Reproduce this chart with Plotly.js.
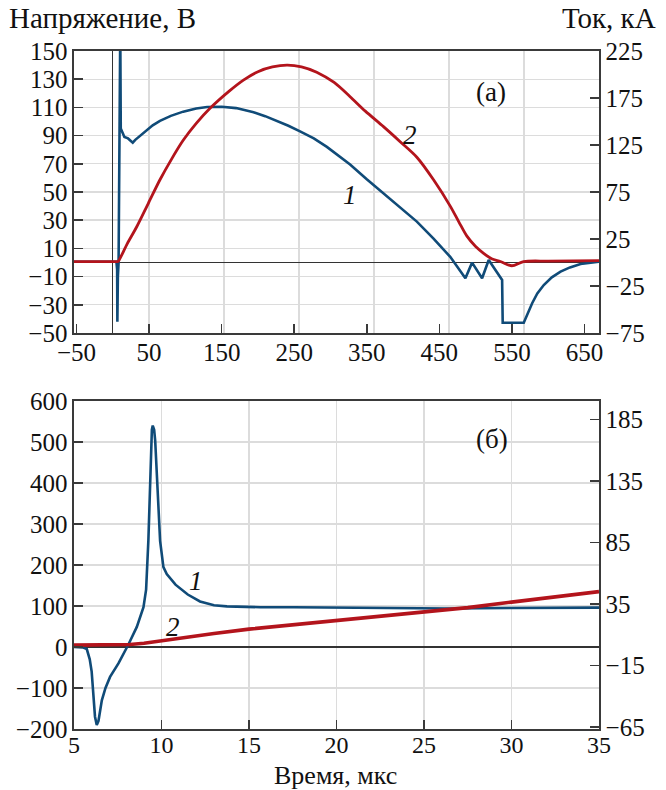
<!DOCTYPE html>
<html>
<head>
<meta charset="utf-8">
<script src="https://cdn.plot.ly/plotly-3.0.1.min.js"></script>
<style>html,body{margin:0;padding:0;background:#fff;}#chart{width:666px;height:790px;}</style>
</head>
<body>
<div id="chart"></div>
<script>
// ---- Panel (а): full pulse ----
const timeA_voltage = [-53.5, 0, 5, 6, 6.3, 7, 8, 9, 9.5, 10.3, 11, 13, 16, 21, 25, 27.5, 31, 37.6, 45, 55, 65, 80, 97, 115, 130, 150, 170, 194, 210, 226, 242, 258, 277, 295, 311, 327, 350, 373, 396, 419, 442, 465, 485.9, 495.1, 508.9, 518, 536.5, 537.3, 566.3, 577.9, 585, 593.9, 605, 617, 630, 644.6, 670];
const voltageA = [0.5, 0.5, 0.5, -5, -42, -10, 0, 100, 165, 165, 95, 92, 89, 88, 86.5, 85, 87, 90, 93.3, 97.3, 100.5, 104, 107, 109.2, 110.3, 110.5, 109.5, 106.5, 103.8, 100.5, 97, 93, 88, 82, 76, 69.5, 59, 49, 39, 29, 17, 4, -11.2, -0.1, -11.2, 1.8, -12.4, -42.7, -42.7, -28.9, -22, -16, -10.5, -6.5, -3.5, -1.1, 0.6];
const timeA_current = [-53.5, 0, 7, 9, 20, 33, 49, 65, 81, 97, 115, 134, 160, 180, 200, 220, 240, 260, 281, 305, 327, 348, 373, 396, 419, 442, 465, 477, 488, 500, 511, 522, 534, 550, 566, 600, 670];
const currentA = [1, 1, 1, 3, 20, 38, 63, 88, 110, 130, 148, 164, 182, 194, 203, 208, 210, 208.2, 202.5, 191.5, 176.4, 161, 144.5, 128.5, 112, 88, 60, 43, 28, 17, 9.8, 4, 1, -3.5, 1, 1.5, 2];

// ---- Panel (б): initial stage ----
const timeB_voltage = [5, 5.5, 5.73, 5.9, 6.01, 6.1, 6.2, 6.3, 6.4, 6.59, 6.8, 7.06, 7.54, 8.11, 8.59, 8.97, 9.12, 9.25, 9.35, 9.45, 9.5, 9.58, 9.64, 9.77, 9.92, 10.11, 10.3, 10.8, 11.5, 12.2, 13, 13.74, 15.65, 17.55, 21.37, 26.5, 30, 35];
const voltageB = [0, -1, -5, -30, -60, -122, -170, -190, -180, -130, -100, -73, -40, 6, 49, 97, 140, 260, 420, 530, 540, 530, 503, 381, 259, 195, 178, 152, 128, 111, 102, 99, 97, 97, 96, 94, 95, 96];
const timeB_current = [5, 7, 8.2, 9, 10, 11, 12, 13, 15, 17.5, 20, 22.5, 25, 27.5, 30, 32.5, 35];
const currentB = [1.5, 1.5, 2, 3, 5, 7.5, 9.5, 11, 14.5, 18, 21, 24.5, 28, 32, 36.5, 40.5, 45];

const ticksA_left = [-50, -30, -10, 10, 30, 50, 70, 90, 110, 130, 150];
const ticksA_right = [-75, -25, 25, 75, 125, 175, 225];
const ticksA_x = [-50, 50, 150, 250, 350, 450, 550, 650];
const ticksB_left = [-200, -100, 0, 100, 200, 300, 400, 500, 600];
const ticksB_right = [-65, -15, 35, 85, 135, 185];
const ticksB_x = [5, 10, 15, 20, 25, 30, 35];

const BLUE = '#104b78', RED = '#b3141c';
const FONT = '"Liberation Serif", "DejaVu Serif", serif';
const tickFont = {family: FONT, size: 25, color: '#111'};
const AX = '#3a3a3a', GRID = '#dcdcdc';

const traces = [
  {x: timeA_voltage, y: voltageA, xaxis: 'x', yaxis: 'y', mode: 'lines', line: {color: BLUE, width: 2.6}, hoverinfo: 'skip'},
  {x: timeA_current, y: currentA, xaxis: 'x', yaxis: 'y2', mode: 'lines', line: {color: RED, width: 2.8, shape: 'spline', smoothing: 0.8}, hoverinfo: 'skip'},
  {x: [], y: [], xaxis: 'x3', yaxis: 'y', mode: 'lines', hoverinfo: 'skip'},
  {x: timeB_voltage, y: voltageB, xaxis: 'x2', yaxis: 'y3', mode: 'lines', line: {color: BLUE, width: 2.6}, hoverinfo: 'skip'},
  {x: timeB_current, y: currentB, xaxis: 'x2', yaxis: 'y4', mode: 'lines', line: {color: RED, width: 3.6}, hoverinfo: 'skip'}
];

const common = {tickfont: tickFont, ticks: 'inside', ticklen: 9, tickwidth: 1.5, tickcolor: AX,
  showline: true, linecolor: AX, linewidth: 1.6, gridcolor: GRID, gridwidth: 1.4};

const layout = {
  width: 666, height: 790,
  margin: {l: 74, r: 67, t: 51, b: 61},
  paper_bgcolor: '#fff', plot_bgcolor: '#fff',
  showlegend: false,
  font: {family: FONT, color: '#111'},
  xaxis: Object.assign({}, common, {domain: [0, 1], anchor: 'y', range: [-53.45, 670], tickvals: ticksA_x,
    showgrid: false, zeroline: true, zerolinecolor: '#333', zerolinewidth: 1.4, mirror: true, ticklabelstandoff: -4}),
  xaxis3: {overlaying: 'x', anchor: 'y', range: [0, 7], dtick: 1, tick0: 0, showgrid: true, gridcolor: GRID, gridwidth: 1.4,
    showticklabels: false, ticks: '', showline: false, zeroline: false},
  yaxis: Object.assign({}, common, {domain: [0.5841, 1], anchor: 'x', range: [-50, 150], tickvals: ticksA_left,
    showgrid: true, zeroline: true, zerolinecolor: '#333', zerolinewidth: 1.6}),
  yaxis2: Object.assign({}, common, {overlaying: 'y', side: 'right', anchor: 'x', range: [-75, 225], tickvals: ticksA_right,
    showgrid: false, zeroline: false}),
  xaxis2: Object.assign({}, common, {domain: [0, 1], anchor: 'y3', range: [5, 35], tickvals: ticksB_x,
    tickfont: {family: FONT, size: 24, color: '#111'}, ticklabelstandoff: -6,
    showgrid: true, zeroline: false, mirror: true}),
  yaxis3: Object.assign({}, common, {domain: [0, 0.4838], anchor: 'x2', range: [-200, 600], tickvals: ticksB_left,
    showgrid: true, zeroline: true, zerolinecolor: '#333', zerolinewidth: 1.6}),
  yaxis4: Object.assign({}, common, {overlaying: 'y3', side: 'right', anchor: 'x2', range: [-66.667, 200], tickvals: ticksB_right,
    showgrid: false, zeroline: false}),
  annotations: [
    {xref: 'paper', yref: 'paper', x: -0.127, y: 1.049, xanchor: 'left', yanchor: 'middle', text: 'Напряжение, В', showarrow: false, font: {family: FONT, size: 29, color: '#111'}},
    {xref: 'paper', yref: 'paper', x: 1.112, y: 1.049, xanchor: 'right', yanchor: 'middle', text: 'Ток, кА', showarrow: false, font: {family: FONT, size: 29, color: '#111'}},
    {xref: 'paper', yref: 'paper', x: 0.499, y: -0.0685, xanchor: 'center', yanchor: 'middle', text: 'Время, мкс', showarrow: false, borderpad: 0, font: {family: FONT, size: 26, color: '#111'}},
    {xref: 'x', yref: 'y', x: 521.7, y: 121, text: '(а)', showarrow: false, font: {family: FONT, size: 27, color: '#111'}},
    {xref: 'x', yref: 'y', x: 410, y: 90.4, text: '<i>2</i>', showarrow: false, font: {family: FONT, size: 27, color: '#111'}},
    {xref: 'x', yref: 'y', x: 327, y: 47.9, text: '<i>1</i>', showarrow: false, font: {family: FONT, size: 27, color: '#111'}},
    {xref: 'x2', yref: 'y3', x: 28.87, y: 507, text: '(б)', showarrow: false, font: {family: FONT, size: 27, color: '#111'}},
    {xref: 'x2', yref: 'y3', x: 11.98, y: 162, text: '<i>1</i>', showarrow: false, font: {family: FONT, size: 27, color: '#111'}},
    {xref: 'x2', yref: 'y3', x: 10.67, y: 48, text: '<i>2</i>', showarrow: false, font: {family: FONT, size: 27, color: '#111'}}
  ]
};

Plotly.newPlot('chart', traces, layout, {displayModeBar: false, staticPlot: true});
</script>
</body>
</html>
